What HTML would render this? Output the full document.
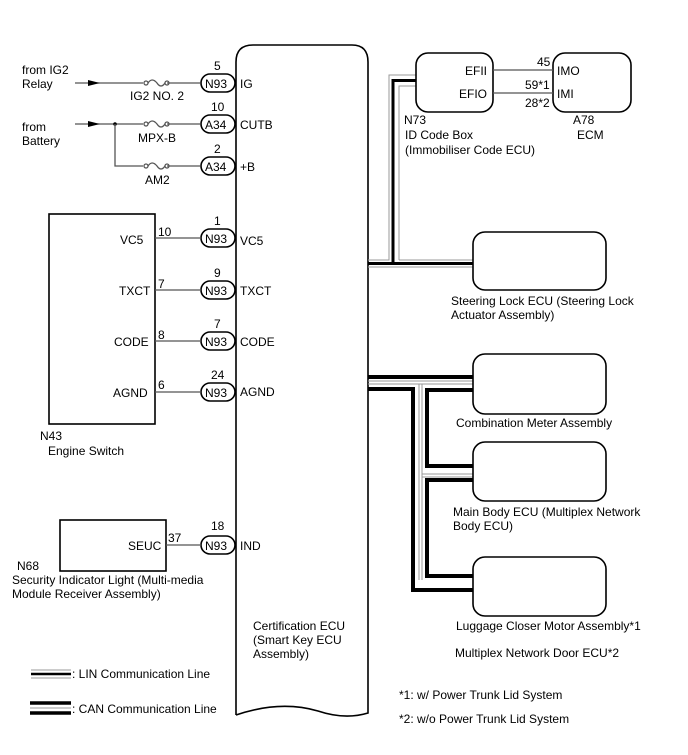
<!DOCTYPE html>
<html><head><style>
body{margin:0;background:#fff}
svg{display:block}
text{font-family:"Liberation Sans",Arial,sans-serif;font-size:12px;fill:#000}
.w{stroke:#555;stroke-width:1.3;fill:none}
.b{stroke:#000;stroke-width:1.6;fill:#fff}
.g{stroke:#999;stroke-width:1;fill:none}
.k{stroke:#000;stroke-width:3;fill:none}
.K{stroke:#000;stroke-width:4;fill:none}
</style></head><body>
<svg width="688" height="755" viewBox="0 0 688 755">
<!-- ECU body -->
<path d="M236,715 L236,62 Q236,45 253,45 L352,45 Q368,45 368,62 L368,713 Q345,720 318,711 Q280,700 236,715" class="b"/>
<text x="253" y="630">Certification ECU</text>
<text x="253" y="644">(Smart Key ECU</text>
<text x="253" y="658">Assembly)</text>

<!-- power inputs -->
<text x="22" y="74">from IG2</text><text x="22" y="88">Relay</text>
<text x="22" y="131">from</text><text x="22" y="145">Battery</text>
<line x1="75" y1="83" x2="200" y2="83" class="w"/>
<polygon points="88,80 100,83 88,86" fill="#000"/>
<line x1="75" y1="124" x2="200" y2="124" class="w"/>
<polygon points="88,121 100,124 88,127" fill="#000"/>
<circle cx="115" cy="124" r="1.8" fill="#000"/>
<polyline points="115,124 115,166 200,166" class="w"/>
<g fill="#fff" stroke="#555">
<rect x="143" y="78" width="24" height="10" stroke="none"/>
<rect x="143" y="119" width="24" height="10" stroke="none"/>
<rect x="143" y="161" width="24" height="10" stroke="none"/>
</g>
<g class="w">
<circle cx="146" cy="83" r="2"/><circle cx="167" cy="83" r="2"/><path d="M148,83 Q152,77 157,83 Q161,89 165,83"/>
<circle cx="146" cy="124" r="2"/><circle cx="167" cy="124" r="2"/><path d="M148,124 Q152,118 157,124 Q161,130 165,124"/>
<circle cx="146" cy="166" r="2"/><circle cx="167" cy="166" r="2"/><path d="M148,166 Q152,160 157,166 Q161,172 165,166"/>
</g>
<text x="130" y="100">IG2 NO. 2</text>
<text x="138" y="142">MPX-B</text>
<text x="145" y="184">AM2</text>

<!-- connector pills -->
<g>
<rect x="201" y="74" width="34" height="18" rx="9" class="b"/><text x="205" y="88">N93</text><text x="214" y="70">5</text><text x="240" y="88">IG</text>
<rect x="201" y="115" width="34" height="18" rx="9" class="b"/><text x="205" y="129">A34</text><text x="211" y="111">10</text><text x="240" y="129">CUTB</text>
<rect x="201" y="157" width="34" height="18" rx="9" class="b"/><text x="205" y="171">A34</text><text x="214" y="153">2</text><text x="240" y="171">+B</text>
<rect x="201" y="229" width="34" height="18" rx="9" class="b"/><text x="205" y="243">N93</text><text x="214" y="225">1</text><text x="240" y="245">VC5</text>
<rect x="201" y="281" width="34" height="18" rx="9" class="b"/><text x="205" y="295">N93</text><text x="214" y="277">9</text><text x="240" y="295">TXCT</text>
<rect x="201" y="332" width="34" height="18" rx="9" class="b"/><text x="205" y="346">N93</text><text x="214" y="328">7</text><text x="240" y="346">CODE</text>
<rect x="201" y="383" width="34" height="18" rx="9" class="b"/><text x="205" y="397">N93</text><text x="211" y="379">24</text><text x="240" y="396">AGND</text>
<rect x="201" y="536" width="34" height="18" rx="9" class="b"/><text x="205" y="550">N93</text><text x="211" y="530">18</text><text x="240" y="550">IND</text>
</g>

<!-- engine switch -->
<rect x="49" y="214" width="106" height="210" class="b"/>
<line x1="155" y1="238" x2="201" y2="238" class="w"/><text x="120" y="244">VC5</text><text x="158" y="236">10</text>
<line x1="155" y1="290" x2="201" y2="290" class="w"/><text x="119" y="295">TXCT</text><text x="158" y="288">7</text>
<line x1="155" y1="341" x2="201" y2="341" class="w"/><text x="114" y="346">CODE</text><text x="158" y="339">8</text>
<line x1="155" y1="392" x2="201" y2="392" class="w"/><text x="113" y="397">AGND</text><text x="158" y="389">6</text>
<text x="40" y="440">N43</text><text x="48" y="455">Engine Switch</text>

<!-- security -->
<rect x="60" y="520" width="106" height="51" class="b"/>
<line x1="166" y1="545" x2="201" y2="545" class="w"/><text x="128" y="550">SEUC</text><text x="168" y="542">37</text>
<text x="17" y="570">N68</text>
<text x="12" y="584">Security Indicator Light (Multi-media</text>
<text x="12" y="598">Module Receiver Assembly)</text>

<!-- LIN bus -->
<polyline points="368,260 389,260 389,75 416,75" class="g"/>
<polyline points="368,267 473,267" class="g"/>
<polyline points="399,260 399,86 416,86" class="g"/>
<polyline points="399,260 473,260" class="g"/>
<polyline points="368,263.5 393,263.5 393,80.5 416,80.5" class="k"/>
<line x1="393" y1="263.5" x2="473" y2="263.5" class="k"/>

<!-- ID code box / ECM -->
<rect x="416" y="53" width="77" height="59" rx="12" class="b"/>
<text x="465" y="75">EFII</text><text x="459" y="98">EFIO</text>
<rect x="553" y="53" width="78" height="59" rx="12" class="b"/>
<text x="557" y="75">IMO</text><text x="557" y="98">IMI</text>
<line x1="493" y1="70" x2="553" y2="70" class="w"/><line x1="493" y1="93" x2="553" y2="93" class="w"/>
<text x="537" y="66">45</text><text x="525" y="89">59*1</text><text x="525" y="107">28*2</text>
<text x="404" y="124">N73</text><text x="405" y="139">ID Code Box</text><text x="405" y="154">(Immobiliser Code ECU)</text>
<text x="573" y="124">A78</text><text x="577" y="139">ECM</text>

<!-- CAN bus -->
<g class="g">
<line x1="368" y1="381" x2="473" y2="381"/><line x1="368" y1="384" x2="473" y2="384"/>
<line x1="419" y1="384" x2="419" y2="580"/><line x1="422" y1="384" x2="422" y2="580"/>
<line x1="422" y1="474" x2="473" y2="474"/><line x1="422" y1="477" x2="473" y2="477"/>
</g>
<polyline points="368,377 473,377" class="K"/>
<polyline points="368,389 413,389 413,590 473,590" class="K"/>
<polyline points="473,390 427,390 427,466 473,466" class="K"/>
<polyline points="473,480 427,480 427,576 473,576" class="K"/>

<!-- right boxes -->
<rect x="473" y="232" width="133" height="58" rx="12" class="b"/>
<text x="451" y="305">Steering Lock ECU (Steering Lock</text><text x="451" y="319">Actuator Assembly)</text>
<rect x="473" y="354" width="133" height="60" rx="12" class="b"/>
<text x="456" y="427">Combination Meter Assembly</text>
<rect x="473" y="442" width="133" height="59" rx="12" class="b"/>
<text x="453" y="516">Main Body ECU (Multiplex Network</text><text x="453" y="530">Body ECU)</text>
<rect x="473" y="557" width="133" height="59" rx="12" class="b"/>
<text x="456" y="630">Luggage Closer Motor Assembly*1</text>
<text x="455" y="657">Multiplex Network Door ECU*2</text>
<text x="399" y="699">*1: w/ Power Trunk Lid System</text>
<text x="399" y="723">*2: w/o Power Trunk Lid System</text>

<!-- legend -->
<g>
<line x1="31" y1="670" x2="71" y2="670" class="g"/><line x1="31" y1="674" x2="71" y2="674" stroke="#000" stroke-width="2.5"/><line x1="31" y1="678" x2="71" y2="678" class="g"/>
<text x="72" y="678">: LIN Communication Line</text>
<line x1="30" y1="703" x2="71" y2="703" stroke="#000" stroke-width="3.5"/><line x1="30" y1="708" x2="71" y2="708" class="g"/><line x1="30" y1="713" x2="71" y2="713" stroke="#000" stroke-width="3.5"/>
<text x="72" y="713">: CAN Communication Line</text>
</g>
</svg>
</body></html>
